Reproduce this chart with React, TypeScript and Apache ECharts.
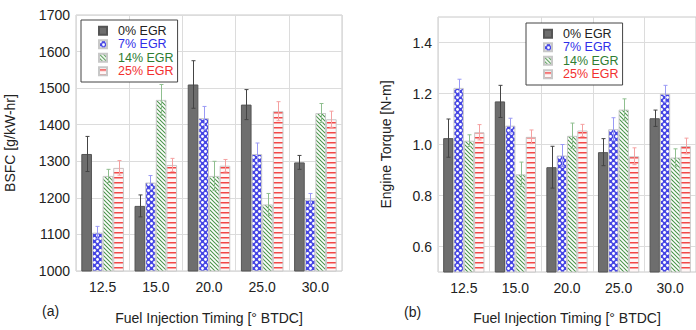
import React, { useEffect, useRef } from 'react';
import * as echarts from 'echarts';

const categories = ['12.5', '15.0', '20.0', '25.0', '30.0'];
const seriesNames = ['0% EGR', '7% EGR', '14% EGR', '25% EGR'];

const bsfc0 = [1320, 1178, 1510, 1455, 1297];
const bsfc7 = [1105, 1242, 1418, 1320, 1195];
const bsfc14 = [1260, 1468, 1260, 1182, 1432];
const bsfc25 = [1282, 1290, 1288, 1437, 1415];
const bsfcErr0 = [48, 30, 65, 41, 19];
const bsfcErr7 = [17, 19, 32, 30, 17];
const bsfcErr14 = [18, 42, 40, 30, 26];
const bsfcErr25 = [20, 18, 17, 26, 22];

const torque0 = [1.025, 1.169, 0.911, 0.97, 1.103];
const torque7 = [1.222, 1.074, 0.957, 1.06, 1.199];
const torque14 = [1.015, 0.883, 1.034, 1.137, 0.949];
const torque25 = [1.048, 1.03, 1.055, 0.954, 0.994];
const torqueErr0 = [0.075, 0.063, 0.082, 0.053, 0.032];
const torqueErr7 = [0.034, 0.029, 0.043, 0.045, 0.033];
const torqueErr14 = [0.023, 0.048, 0.05, 0.042, 0.034];
const torqueErr25 = [0.03, 0.027, 0.024, 0.033, 0.031];

const torqueTicks = [0.6, 0.8, 1.0, 1.2, 1.4];

const FONT = 'Liberation Sans, Arial, sans-serif';
const TEXT = '#222';
const legendColors = ['#222222', '#2f2fe8', '#2e7d32', '#f23030'];
const errColors = ['#444444', '#9a9af5', '#8fbf8f', '#f5a0a0'];

function makeTile(kind: string): string {
  const c = document.createElement('canvas');
  const g = c.getContext('2d')!;
  if (kind === 'blue') {
    const size = 6;
    c.width = size;
    c.height = size;
    g.fillStyle = '#4646e4';
    g.fillRect(0, 0, size, size);
    g.fillStyle = '#ffffff';
    for (const [x, y] of [[1.5, 1.5], [4.5, 4.5]]) {
      g.beginPath();
      g.arc(x, y, 1.45, 0, Math.PI * 2);
      g.fill();
    }
  } else if (kind === 'green') {
    const size = 8;
    c.width = size;
    c.height = size;
    g.fillStyle = '#ffffff';
    g.fillRect(0, 0, size, size);
    g.strokeStyle = '#4a944a';
    g.lineWidth = 1.1;
    for (const off of [-8, -4, 0, 4, 8]) {
      g.beginPath();
      g.moveTo(off - 1, -1);
      g.lineTo(off + size + 1, size + 1);
      g.stroke();
    }
  } else {
    c.width = 5;
    c.height = 5;
    g.fillStyle = '#fff6f6';
    g.fillRect(0, 0, 5, 5);
    g.fillStyle = '#f24848';
    g.fillRect(0, 2, 5, 1.5);
  }
  return c.toDataURL();
}

export default function App() {
  const ref = useRef<HTMLDivElement>(null);

  useEffect(() => {
    if (!ref.current) return;
    const chart = echarts.init(ref.current, null, { renderer: 'svg' });

    const fills: any[] = [
      '#6e6e6e',
      { image: makeTile('blue'), repeat: 'repeat' },
      { image: makeTile('green'), repeat: 'repeat' },
      { image: makeTile('red'), repeat: 'repeat' },
    ];
    const borders = ['#555555', '#c8c8c8', '#c8c8c8', '#c8c8c8'];

    const bsfcVals = [bsfc0, bsfc7, bsfc14, bsfc25];
    const bsfcErrs = [bsfcErr0, bsfcErr7, bsfcErr14, bsfcErr25];
    const tVals = [torque0, torque7, torque14, torque25];
    const tErrs = [torqueErr0, torqueErr7, torqueErr14, torqueErr25];

    const errRender = (params: any, api: any) => {
      const cat = api.value(0);
      const k = api.value(1);
      const lo = api.value(2);
      const hi = api.value(3);
      const band = api.size([1, 0])[0];
      const bw = (band * 0.8) / 4;
      const pLo = api.coord([cat, lo]);
      const pHi = api.coord([cat, hi]);
      const x = Math.round(pLo[0] + (k - 1.5) * bw) + 0.5;
      const cap = 2;
      const style = { stroke: errColors[k], lineWidth: 1, fill: null };
      return {
        type: 'group',
        children: [
          { type: 'line', shape: { x1: x, y1: pLo[1], x2: x, y2: pHi[1] }, style },
          { type: 'line', shape: { x1: x - cap, y1: pHi[1], x2: x + cap, y2: pHi[1] }, style },
          { type: 'line', shape: { x1: x - cap, y1: pLo[1], x2: x + cap, y2: pLo[1] }, style },
        ],
      };
    };

    const series: any[] = [];
    const addPanel = (vals: number[][], errs: number[][], idx: number) => {
      vals.forEach((v, k) => {
        series.push({
          type: 'bar',
          name: seriesNames[k],
          xAxisIndex: idx,
          yAxisIndex: idx,
          data: v,
          barGap: '0%',
          barCategoryGap: '20%',
          itemStyle: { color: fills[k], borderColor: borders[k], borderWidth: 1 },
          emphasis: { disabled: true },
        });
      });
      const errData: number[][] = [];
      vals.forEach((v, k) => {
        v.forEach((val, i) => {
          errData.push([i, k, val - errs[k][i], val + errs[k][i]]);
        });
      });
      series.push({
        type: 'custom',
        xAxisIndex: idx,
        yAxisIndex: idx,
        renderItem: errRender,
        data: errData,
        encode: { x: 0, y: [2, 3] },
        z: 10,
        silent: true,
      });
    };
    addPanel(bsfcVals, bsfcErrs, 0);
    addPanel(tVals, tErrs, 1);

    const legendData = seriesNames.map((n, k) => ({
      name: n,
      textStyle: { color: legendColors[k] },
    }));
    const legendBase = {
      orient: 'vertical',
      data: legendData,
      itemWidth: 8,
      itemHeight: 8,
      itemGap: 0,
      icon: 'rect',
      padding: [4, 4, 4, 17],
      borderColor: '#444',
      borderWidth: 1,
      borderRadius: 0,
      backgroundColor: '#fff',
      selectedMode: false,
      textStyle: { fontSize: 12.5, lineHeight: 13.5, fontFamily: FONT, padding: [0, 0, 0, 6] },
    };

    const xAxisBase = {
      type: 'category',
      data: categories,
      axisLine: { show: false },
      axisTick: { show: false },
      axisLabel: { fontSize: 14, color: TEXT, fontFamily: FONT, margin: 9 },
      splitLine: { show: true, lineStyle: { color: '#dcdcdc', width: 1 } },
      name: 'Fuel Injection Timing [\u00b0 BTDC]',
      nameLocation: 'middle',
      nameGap: 40,
      nameTextStyle: { fontSize: 14, color: TEXT, fontFamily: FONT },
    };

    chart.setOption({
      animation: false,
      textStyle: { fontFamily: FONT },
      grid: [
        { left: 76, top: 15, width: 266, height: 266, show: true, borderColor: '#c8c8c8', borderWidth: 1, backgroundColor: 'transparent' },
        { left: 438, top: 17, width: 267, height: 264, show: true, borderColor: '#c8c8c8', borderWidth: 1, backgroundColor: 'transparent' },
      ],
      legend: [
        { ...legendBase, left: 81, top: 20 },
        { ...legendBase, left: 526, top: 23 },
      ],
      xAxis: [
        { ...xAxisBase, gridIndex: 0 },
        { ...xAxisBase, gridIndex: 1, nameGap: 39 },
      ],
      yAxis: [
        {
          type: 'value',
          gridIndex: 0,
          min: 1000,
          max: 1700,
          interval: 100,
          axisLine: { show: false },
          axisTick: { show: false },
          axisLabel: {
            fontSize: 14,
            color: TEXT,
            fontFamily: FONT,
            margin: 6,
            formatter: (v: number) => String(v),
          },
          splitLine: { show: true, lineStyle: { color: '#dcdcdc', width: 1 } },
          name: 'BSFC [g/kW-hr]',
          nameLocation: 'middle',
          nameGap: 59,
          nameTextStyle: { fontSize: 14, color: TEXT, fontFamily: FONT },
        },
        {
          type: 'value',
          gridIndex: 1,
          min: 0.5,
          max: 1.5,
          axisLine: { show: false },
          axisTick: { show: false, customValues: torqueTicks },
          axisLabel: {
            fontSize: 14,
            color: TEXT,
            fontFamily: FONT,
            margin: 6,
            customValues: torqueTicks,
            formatter: (v: number) => v.toFixed(1),
          },
          splitLine: { show: true, lineStyle: { color: '#dcdcdc', width: 1 } },
          name: 'Engine Torque [N-m]',
          nameLocation: 'middle',
          nameGap: 45,
          nameTextStyle: { fontSize: 14, color: TEXT, fontFamily: FONT },
        },
      ],
      graphic: [
        { type: 'text', left: 42, top: 304, style: { text: '(a)', fontSize: 14, fill: TEXT, fontFamily: FONT } },
        { type: 'text', left: 404, top: 305, style: { text: '(b)', fontSize: 14, fill: TEXT, fontFamily: FONT } },
      ],
      series,
    });

    return () => chart.dispose();
  }, []);

  return (
    <div
      ref={ref}
      style={{ position: 'absolute', left: 0, top: 0, width: 696, height: 330, background: '#fff' }}
    />
  );
}
